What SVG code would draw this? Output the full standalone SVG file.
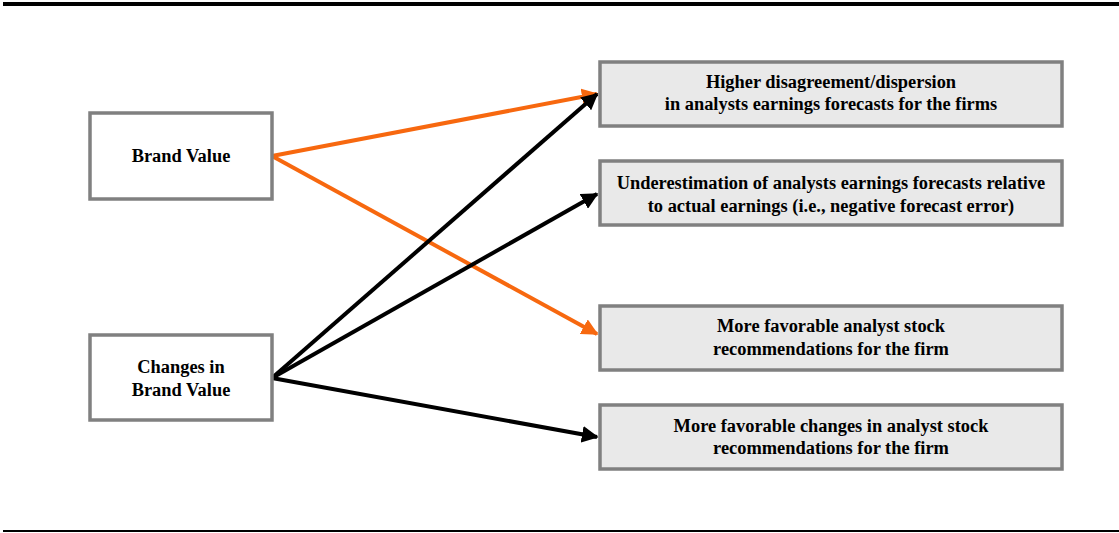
<svg xmlns="http://www.w3.org/2000/svg" width="1119" height="533" viewBox="0 0 1119 533">
<defs>
<style>
.box{stroke:#808080;stroke-width:3.5}
.l{fill:#fff}
.r{fill:#e9e9e9}
text{font-family:"Liberation Serif","Times New Roman",serif;font-weight:bold;font-size:18.4px;fill:#000;text-anchor:middle}
.or{stroke:#f7680f;stroke-width:4;fill:none}
.bk{stroke:#000;stroke-width:4;fill:none}
</style>
<marker id="ao" viewBox="0 0 10 10" refX="9" refY="5" markerWidth="4.2" markerHeight="4.2" orient="auto" markerUnits="strokeWidth"><path d="M0,0 L10,5 L0,10 z" fill="#f7680f"/></marker>
<marker id="ab" viewBox="0 0 10 10" refX="9" refY="5" markerWidth="4.2" markerHeight="4.2" orient="auto" markerUnits="strokeWidth"><path d="M0,0 L10,5 L0,10 z" fill="#000"/></marker>
</defs>
<rect x="3" y="2" width="1116" height="4" fill="#000"/>
<rect x="3" y="530" width="1116" height="2" fill="#000"/>
<g id="connectors">
<line class="or" x1="272" y1="156" x2="597" y2="94" marker-end="url(#ao)"/>
<line class="or" x1="272" y1="156" x2="597" y2="334" marker-end="url(#ao)"/>
<line class="bk" x1="272" y1="378" x2="597" y2="94" marker-end="url(#ab)"/>
<line class="bk" x1="272" y1="378" x2="597" y2="194" marker-end="url(#ab)"/>
<line class="bk" x1="272" y1="378" x2="597" y2="437" marker-end="url(#ab)"/>
</g>
<g id="brand-value"><rect class="box l" x="90" y="113" width="182" height="86"/><text x="181" y="162">Brand Value</text></g>
<g id="changes-brand-value"><rect class="box l" x="90" y="335" width="182" height="85"/><text x="181" y="373">Changes in</text><text x="181" y="396">Brand Value</text></g>
<g id="dispersion"><rect class="box r" x="600" y="62" width="462" height="64"/><text x="831" y="88">Higher disagreement/dispersion</text><text x="831" y="110">in analysts earnings forecasts for the firms</text></g>
<g id="underestimation"><rect class="box r" x="600" y="161" width="462" height="64"/><text x="831" y="189">Underestimation of analysts earnings forecasts relative</text><text x="831" y="212">to actual earnings (i.e., negative forecast error)</text></g>
<g id="recommendations"><rect class="box r" x="600" y="306" width="462" height="64"/><text x="831" y="332">More favorable analyst stock</text><text x="831" y="355">recommendations for the firm</text></g>
<g id="changes-recommendations"><rect class="box r" x="600" y="405" width="462" height="64"/><text x="831" y="432">More favorable changes in analyst stock</text><text x="831" y="454">recommendations for the firm</text></g>
</svg>
